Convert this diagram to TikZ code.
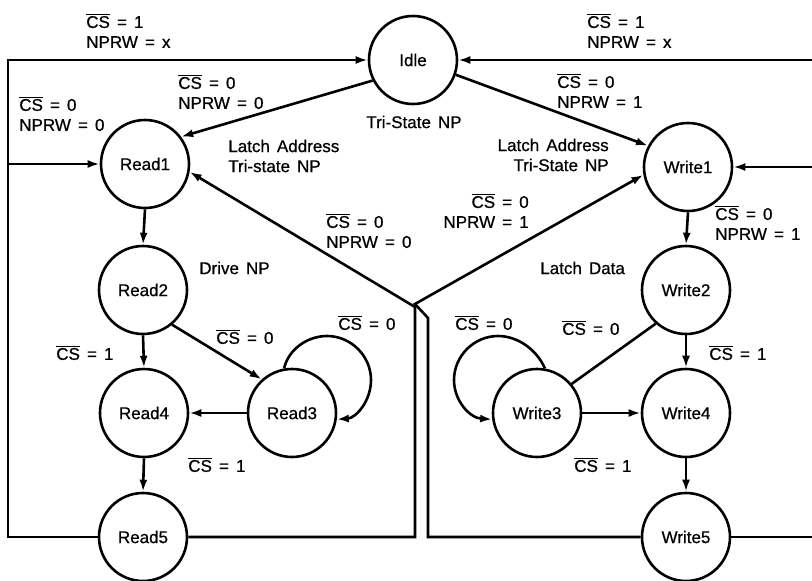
\documentclass[tikz,border=0pt]{standalone}
\usepackage{fontspec}
\setmainfont{Liberation Sans}[FakeBold=0.7, WordSpace=1.5]
\usetikzlibrary{arrows.meta}
\newcommand{\CSbar}{$\overline{\hbox{CS}}$}
\begin{document}
\begin{tikzpicture}[x=1pt,y=-1pt, line width=2.6pt,
  state/.style={circle, draw, minimum size=88pt, inner sep=0pt, font=\fontsize{17}{20}\selectfont},
  lbl/.style={inner sep=0pt, font=\fontsize{17}{20}\selectfont},
  arr/.style={-{Latex[length=12pt,width=8pt]}}]
\useasboundingbox (0,0) rectangle (812,581);

% states
\node[state] (idle) at (413,60) {Idle};
\node[state] (r1) at (145,164) {Read1};
\node[state] (r2) at (143,290) {Read2};
\node[state] (r3) at (292,413) {Read3};
\node[state] (r4) at (144,413) {Read4};
\node[state] (r5) at (143,537) {Read5};
\node[state] (w1) at (688,167) {Write1};
\node[state] (w2) at (686,290) {Write2};
\node[state] (w3) at (537,413) {Write3};
\node[state] (w4) at (686,413) {Write4};
\node[state] (w5) at (686,537) {Write5};

% routing points
\coordinate (lt) at (8,60);
\coordinate (lm) at (8,164);
\coordinate (rt) at (815,60);
\coordinate (rm) at (815,167);
\coordinate (rb) at (815,537);
\coordinate (ra) at (415,537);
\coordinate (rb2) at (415,307);
\coordinate (wa) at (428,537);
\coordinate (wb) at (428,318);
\coordinate (wc) at (415,304);

% outer return paths
\draw[arr] (r5.west) -| (lt) -- (idle.west);
\draw[arr] (lm) -- (r1.west);
\draw[arr] (w5.east) -- (rb) -- (rt) -- (idle.east);
\draw[arr] (rm) -- (w1.east);
\draw[arr] (r5.east) -- (ra) -- (rb2) -- (r1.-10);
\draw[arr] (w5.west) -- (wa) -- (wb) -- (wc) -- (w1.190);

% idle transitions
\draw[arr] (idle.207) -- (r1.37);
\draw[arr] (idle.-19) -- (w1.152);

% read side
\draw[arr] (r1.south) -- (r2.north);
\draw[arr] (r2.south) -- (r4.north);
\draw[arr] (r2.-50) -- (r3.132);
\draw[arr] (r3.west) -- (r4.east);
\draw[arr] (r4.south) -- (r5.north);
\draw[arr] (r3.100) .. controls (288,350) and (307,336) .. (327,336)
  .. controls (351,336) and (371,356) .. (371,380)
  .. controls (371,401) and (356,418) .. (r3.-8);

% write side
\draw[arr] (w1.south) -- (w2.north);
\draw[arr] (w2.south) -- (w4.north);
\draw (w2.-132) -- (w3.40);
\draw[arr] (w3.east) -- (w4.west);
\draw[arr] (w4.south) -- (w5.north);
\draw[arr] (w3.80) .. controls (537,350) and (518,336) .. (498,336)
  .. controls (474,336) and (454,356) .. (454,380)
  .. controls (454,401) and (470,418) .. (w3.188);

% labels
\node[lbl, anchor=west, align=left] (l1) at (85,31) {\CSbar{} = 1\\NPRW = x};
\node[lbl, anchor=west, align=left] (l2) at (586,31) {\CSbar{} = 1\\NPRW = x};
\node[lbl, anchor=west, align=left] (l3) at (177,92) {\CSbar{} = 0\\NPRW = 0};
\node[lbl, anchor=west, align=left] (l4) at (18,114) {\CSbar{} = 0\\NPRW = 0};
\node[lbl] (l5) at (414,122) {Tri-State NP};
\node[lbl, anchor=west, align=left] (l6) at (556,91) {\CSbar{} = 0\\NPRW = 1};
\node[lbl, anchor=west, align=left] (l7) at (227,156) {Latch Address\\Tri-state NP};
\node[lbl, anchor=east, align=right] (l8) at (610,155) {Latch Address\\Tri-State NP};
\node[lbl, anchor=east, align=right] (l9) at (530,211) {\CSbar{} = 0\\NPRW = 1};
\node[lbl, anchor=west, align=left] (l10) at (325,231) {\CSbar{} = 0\\NPRW = 0};
\node[lbl, anchor=west] (l11) at (198,268) {Drive NP};
\node[lbl, anchor=west] (l12) at (55,353) {\CSbar{} = 1};
\node[lbl, anchor=west] (l13) at (215,337) {\CSbar{} = 0};
\node[lbl, anchor=west] (l14) at (337,323) {\CSbar{} = 0};
\node[lbl, anchor=west] (l15) at (187,465) {\CSbar{} = 1};
\node[lbl, anchor=west] (l16) at (539,268) {Latch Data};
\node[lbl, anchor=west] (l17) at (454,323) {\CSbar{} = 0};
\node[lbl, anchor=west] (l18) at (561,328) {\CSbar{} = 0};
\node[lbl, anchor=west] (l19) at (708,353) {\CSbar{} = 1};
\node[lbl, anchor=west, align=left] (l20) at (714,223) {\CSbar{} = 0\\NPRW = 1};
\node[lbl, anchor=west] (l21) at (573,465) {\CSbar{} = 1};
\end{tikzpicture}
\end{document}
